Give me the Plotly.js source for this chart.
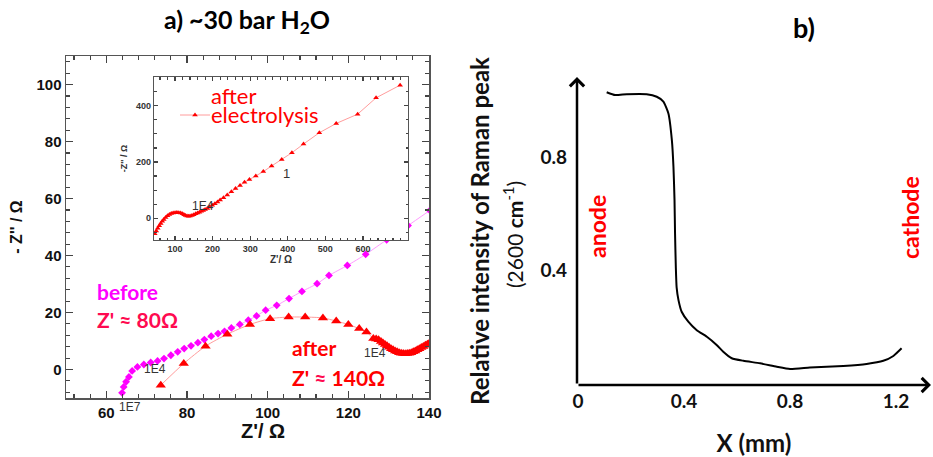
<!DOCTYPE html>
<html>
<head>
<meta charset="utf-8">
<script src="https://cdn.plot.ly/plotly-3.0.1.min.js"></script>
<style>html,body{margin:0;padding:0;background:#fff;}#chart{width:933px;height:457px;}</style>
</head>
<body>
<div id="chart"></div>
<script>
// ---- Panel a: main Nyquist plot ----
const beforeZre = [63.9, 64.3, 64.9, 65.6, 66.4, 67.7, 69.3, 71.0, 72.7, 74.3, 76.0, 77.7, 79.3, 81.0, 82.7, 84.3, 86.0, 87.7, 89.3, 91.0, 93.1, 95.2, 97.25, 99.5, 102.25, 105.3, 108.5, 112.25, 115.2, 119.75, 124.3, 129.5, 134.8, 140.2];
const beforeZim = [-8.2, -6.1, -4.3, -2.6, -0.5, 0.9, 1.75, 2.45, 3.0, 3.85, 5.0, 6.2, 7.35, 8.3, 9.4, 10.5, 11.7, 12.6, 13.4, 14.6, 15.8, 17.3, 18.8, 20.8, 22.5, 24.9, 27.4, 30.1, 33.0, 36.5, 40.4, 45.5, 50.5, 55.8];

const afterZre = [73.5, 79.2, 84.6, 90.0, 95.6, 100.6, 105.2, 109.3, 113.7, 117.0, 120.0, 122.7, 124.5, 126.2, 126.9, 127.5, 128.1, 128.6, 129.1, 129.6, 130.1, 130.6, 131.1, 131.6, 132.1, 132.6, 133.1, 133.6, 134.1, 134.6, 135.1, 135.6, 136.1, 136.6, 137.1, 137.6, 138.1, 138.6, 139.1, 139.6, 140.1];
const afterZim = [-5.5, 2.1, 8.2, 12.4, 15.8, 17.85, 18.4, 18.4, 18.1, 17.0, 15.8, 14.35, 13.2, 10.9, 10.7, 10.4, 9.8, 9.3, 8.8, 8.3, 7.8, 7.3, 6.9, 6.5, 6.2, 5.9, 5.7, 5.6, 5.55, 5.6, 5.7, 5.9, 6.2, 6.5, 6.9, 7.3, 7.7, 8.1, 8.5, 8.9, 9.3];

// ---- Panel a inset: after electrolysis, full range ----
const insetZre = [46, 50, 54, 58, 62, 66, 70, 75, 80, 85, 90, 95, 100, 105, 110, 115, 120, 124, 128, 132, 136, 140, 145, 150, 155, 160, 165, 170, 175, 180, 186, 192, 199, 206, 213, 220, 229, 239, 250, 261, 273, 285, 298, 315, 335, 357, 384, 411, 442, 484, 529, 586, 635, 699];
const insetZim = [-55, -45, -35, -26, -18, -10, -4, 3, 9, 14, 17, 19, 20, 20.5, 20, 18.5, 16, 13, 10, 8, 7.5, 8, 10, 13, 16, 19, 22, 25, 28, 31, 35, 40, 46, 52, 58, 65, 73, 83, 94, 106, 117, 128, 138, 150, 166, 186, 209, 233, 264, 304, 337, 370, 428, 473];

// ---- Panel b: Raman profile ----
const posX = [0.108, 0.140, 0.184, 0.259, 0.297, 0.322, 0.341, 0.354, 0.360, 0.364, 0.366, 0.369, 0.372, 0.379, 0.391, 0.416, 0.448, 0.486, 0.523, 0.548, 0.580, 0.624, 0.687, 0.750, 0.800, 0.875, 1.001, 1.089, 1.152, 1.190, 1.221];
const ramanI = [1.030, 1.020, 1.023, 1.023, 1.014, 0.997, 0.955, 0.861, 0.767, 0.650, 0.532, 0.412, 0.341, 0.296, 0.255, 0.220, 0.190, 0.167, 0.138, 0.114, 0.091, 0.082, 0.073, 0.061, 0.053, 0.058, 0.064, 0.071, 0.082, 0.099, 0.126];

const bTickVals = [0, 0.4, 0.8, 1.2];
const bTickText = ['0', '0.4', '0.8', '1.2'];
const bYTickVals = [0.4, 0.8];
const bYTickText = ['0.4', '0.8'];

const W = 933, H = 457;
const PX = p => p / W;
const PY = p => 1 - p / H;

const arial = 'Liberation Sans, Arial, sans-serif';
const cal = 'Lato, Carlito, Calibri, sans-serif';

const traces = [
  {x: beforeZre, y: beforeZim, xaxis: 'x', yaxis: 'y', mode: 'lines+markers', showlegend: false,
   line: {color: '#ff9cff', width: 1, shape: 'spline', smoothing: 0.6},
   marker: {symbol: 'diamond', size: 6, color: '#ff00ff'}},
  {x: afterZre, y: afterZim, xaxis: 'x', yaxis: 'y', mode: 'lines+markers', showlegend: false,
   line: {color: '#ff9c9c', width: 1, shape: 'spline', smoothing: 0.6},
   marker: {symbol: 'triangle-up', size: 9, color: '#ff0000'}},
  {x: insetZre, y: insetZim, xaxis: 'x2', yaxis: 'y2', mode: 'lines+markers', name: ' ', showlegend: true,
   line: {color: '#ff9c9c', width: 1},
   marker: {symbol: 'triangle-up', size: 5, color: '#ff0000'}},
  {x: posX, y: ramanI, xaxis: 'x3', yaxis: 'y3', mode: 'lines', showlegend: false,
   line: {color: '#000', width: 2, shape: 'spline', smoothing: 0.5}}
];

const frameAxis = {
  showgrid: false, zeroline: false, showline: true, linecolor: '#555', linewidth: 1.5,
  mirror: 'ticks', ticks: 'inside', tickcolor: '#444', tickwidth: 1.2
};

function label(text, px, py, font, extra) {
  return Object.assign({text: text, x: PX(px), y: PY(py), xref: 'paper', yref: 'paper',
    xanchor: 'center', yanchor: 'middle', showarrow: false, font: font}, extra || {});
}

const layout = {
  width: W, height: H,
  margin: {l: 0, r: 0, t: 0, b: 0},
  paper_bgcolor: '#fff', plot_bgcolor: '#fff',
  title: {text: '<b>a) ~30 bar H<sub>2</sub>O</b>', x: PX(247), y: PY(20), xanchor: 'center', yanchor: 'middle',
          font: {family: cal, size: 25, color: '#000', weight: 'bold'}},
  showlegend: true,
  legend: {x: PX(175), y: PY(115), xanchor: 'left', yanchor: 'middle', bgcolor: 'rgba(0,0,0,0)',
           font: {size: 4}, itemwidth: 30, tracegroupgap: 0},
  xaxis: Object.assign({}, frameAxis, {
    domain: [PX(66), PX(429)], anchor: 'y', range: [50, 140], tick0: 0, dtick: 20, ticklen: 7,
    minor: {ticks: 'inside', dtick: 4, ticklen: 4, tickcolor: '#444'},
    tickfont: {family: arial, size: 15, color: '#111', weight: 'bold'}
  }),
  yaxis: Object.assign({}, frameAxis, {
    domain: [PY(398), PY(56)], anchor: 'x', range: [-10, 110], tick0: 0, dtick: 20, ticklen: 7,
    minor: {ticks: 'inside', dtick: 4, ticklen: 4, tickcolor: '#444'},
    tickfont: {family: arial, size: 15, color: '#111', weight: 'bold'},
    title: {text: "<b>- Z'' / Ω</b>", standoff: 10, font: {family: arial, size: 16, color: '#111', weight: 'bold'}}
  }),
  xaxis2: Object.assign({}, frameAxis, {
    domain: [PX(154), PX(408)], anchor: 'y2', range: [44, 720], tickmode: 'array',
    tickvals: [100, 200, 300, 400, 500, 600], ticklen: 4, linewidth: 1.2,
    minor: {ticks: 'inside', dtick: 20, tick0: 0, ticklen: 2.5, tickcolor: '#444'},
    tickfont: {family: arial, size: 9, color: '#333', weight: 'bold'},
    title: {text: "<b>Z'/ Ω</b>", standoff: 0, font: {family: arial, size: 10, color: '#333', weight: 'bold'}}
  }),
  yaxis2: Object.assign({}, frameAxis, {
    domain: [PY(240), PY(77)], anchor: 'x2', range: [-77, 502], tick0: 0, dtick: 200, ticklen: 4, linewidth: 1.2,
    minor: {ticks: 'inside', dtick: 50, ticklen: 2.5, tickcolor: '#444'},
    tickfont: {family: arial, size: 9, color: '#333', weight: 'bold'},
    title: {text: "<b>-Z'' / Ω</b>", standoff: 6, font: {family: arial, size: 9, color: '#333', weight: 'bold'}}
  }),
  xaxis3: {
    domain: [PX(577), PX(931)], anchor: 'y3', range: [-0.004, 1.332],
    showgrid: false, zeroline: false, showline: false, ticks: '',
    tickmode: 'array', tickvals: bTickVals, ticktext: bTickText, ticklabelstandoff: 3,
    tickfont: {family: cal, size: 19, color: '#111', weight: 'bold'},
    title: {text: '<b>X (mm)</b>', standoff: 25, font: {family: cal, size: 24, color: '#111', weight: 'bold'}}
  },
  yaxis3: {
    domain: [PY(385), PY(77)], anchor: 'x3', range: [-0.0035, 1.0837],
    showgrid: false, zeroline: false, showline: false, ticks: '',
    tickmode: 'array', tickvals: bYTickVals, ticktext: bYTickText, ticklabelstandoff: 9,
    tickfont: {family: cal, size: 19, color: '#111', weight: 'bold'},
    title: {text: '<b>Relative intensity of Raman peak</b>', standoff: 44, font: {family: cal, size: 24, color: '#111', weight: 'bold'}}
  },
  annotations: [
    label("<b>Z'/ Ω</b>", 263, 431, {family: arial, size: 20, color: '#111', weight: 'bold'}),
    label('<b>before</b>', 95, 291, {family: cal, size: 21, color: '#ff00ff', weight: 'bold'}, {xanchor: 'left'}),
    label("<b>Z' ≈ 80Ω</b>", 95, 319, {family: cal, size: 21, color: '#ff0a50', weight: 'bold'}, {xanchor: 'left'}),
    label('<b>after</b>', 290, 347, {family: cal, size: 21, color: '#ff0000', weight: 'bold'}, {xanchor: 'left'}),
    label("<b>Z' <span style=\"color:#ff0a50\">≈</span> 140Ω</b>", 290, 377, {family: cal, size: 21, color: '#ff0000', weight: 'bold'}, {xanchor: 'left'}),
    label('1E4', 155, 369, {family: arial, size: 12, color: '#333'}),
    label('1E4', 375, 353, {family: arial, size: 12, color: '#333'}),
    label('1E7', 130, 407, {family: arial, size: 12, color: '#333'}),
    label('1E4', 203, 206, {family: arial, size: 12, color: '#333'}),
    label('1', 286, 173, {family: arial, size: 13, color: '#333'}),
    label('after', 209, 96, {family: cal, size: 22, color: '#ff0000'}, {xanchor: 'left'}),
    label('electrolysis', 209, 114, {family: cal, size: 22, color: '#ff0000'}, {xanchor: 'left'}),
    label('<b>b)</b>', 804, 27, {family: cal, size: 27, color: '#000', weight: 'bold'}),
    label('(2600 <b>cm</b><sup>-1</sup>)', 513, 235, {family: cal, size: 21, color: '#111'}, {textangle: -90}),
    label('<b>anode</b>', 597, 227, {family: cal, size: 23, color: '#ff0000', weight: 'bold'}, {textangle: -90}),
    label('<b>cathode</b>', 910, 218, {family: cal, size: 23, color: '#ff0000', weight: 'bold'}, {textangle: -90}),
    {text: '', x: PX(577), y: PY(77), xref: 'paper', yref: 'paper', showarrow: true, ax: 0, ay: 308,
     arrowhead: 4, arrowsize: 1.1, arrowwidth: 2.5, arrowcolor: '#000', standoff: 0, startstandoff: 0},
    {text: '', x: PX(931), y: PY(385), xref: 'paper', yref: 'paper', showarrow: true, ax: -354, ay: 0,
     arrowhead: 4, arrowsize: 1.1, arrowwidth: 2.5, arrowcolor: '#000', standoff: 0, startstandoff: 0}
  ]
};

Plotly.newPlot('chart', traces, layout, {displayModeBar: false, staticPlot: true});
</script>
</body>
</html>
